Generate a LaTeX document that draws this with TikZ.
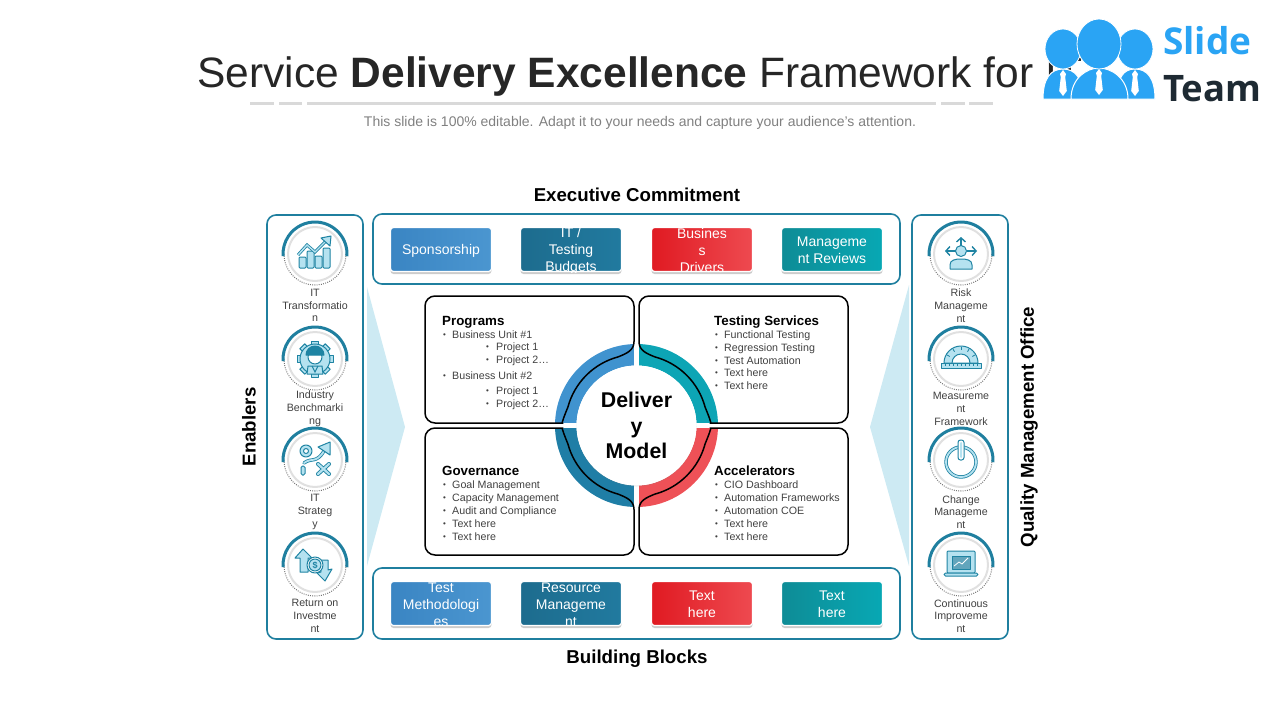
\documentclass[tikz,border=0pt]{standalone}
\usepackage{fontspec}
\setmainfont{Liberation Sans}
\newfontfamily\logofont{Open Sans}
\usepackage{tikz}
\usetikzlibrary{positioning}
\usetikzlibrary{calc,shadows}
\usetikzlibrary{arrows.meta}
\definecolor{frameteal}{HTML}{1F7F9F}
\definecolor{iconlight}{HTML}{B5E2F0}
\definecolor{icondark}{HTML}{1F84A3}
\definecolor{wedgecol}{HTML}{CDEAF3}
\definecolor{ringblue}{HTML}{4093CF}
\definecolor{ringcyan}{HTML}{0DA5B5}
\definecolor{ringdeep}{HTML}{1F7EA6}
\definecolor{ringred}{HTML}{EE5157}
\definecolor{btnblueA}{HTML}{3A85C3}
\definecolor{btnblueB}{HTML}{4B96D0}
\definecolor{btndeepA}{HTML}{1D6C8E}
\definecolor{btndeepB}{HTML}{217A9F}
\definecolor{btnredA}{HTML}{E01A22}
\definecolor{btnredB}{HTML}{EE4A50}
\definecolor{btncyanA}{HTML}{0E8C96}
\definecolor{btncyanB}{HTML}{08A8B4}
\definecolor{logoblue}{HTML}{2AA4F4}
\definecolor{logoink}{HTML}{1E2A33}
\definecolor{bodyink}{HTML}{404040}
\tikzstyle{framebox}=[draw=frameteal,line width=1.6pt,rounded corners=9pt]
\tikzstyle{panelline}=[draw=black,line width=1.5pt]
\tikzstyle{headtxt}=[inner sep=0pt,font=\fontsize{18.67}{22}\selectfont\bfseries,text=black]
\tikzstyle{btnbox}=[draw=white,line width=1.2pt,rounded corners=3pt,minimum width=101pt,minimum height=44pt,inner sep=0pt,shading angle=60,drop shadow={shadow xshift=0pt,shadow yshift=-2.5pt,opacity=.4}]
\tikzstyle{btntxt}=[inner sep=0pt,align=center,text=white,yshift=-1.2pt,font=\fontsize{14}{17}\selectfont]
\tikzstyle{paneltitle}=[inner sep=0pt,anchor=base west,font=\fontsize{13.33}{16}\selectfont\bfseries,text=black]
\tikzstyle{paneltxt}=[inner sep=0pt,anchor=base west,font=\fontsize{10.67}{12.8}\selectfont,text=bodyink]
\tikzstyle{sidetxt}=[inner sep=0pt,align=center,font=\fontsize{10.67}{12.8}\selectfont,text=bodyink]
\tikzstyle{badgedisc}=[circle,fill=white,draw=black!12,line width=2pt,minimum size=54pt,inner sep=0pt]
\tikzstyle{iconpart}=[draw=icondark,fill=iconlight,line width=1pt,line join=round]
\tikzstyle{chevron}=[icondark,line width=1.4pt,-{Straight Barb[length=4pt,width=9pt]}]
\tikzset{>=latex}
\newcommand{\dotmark}{\raisebox{1pt}{\fontsize{8}{8}\selectfont•}}

% one button, its text is cut off at the button edge
\newcommand{\slidebtn}[5]{
  \node[btnbox,left color=#3,right color=#4] (#1) at (#2) {};
  \begin{scope}
    \clip[rounded corners=3pt] (#1.south west) rectangle (#1.north east);
    \node[btntxt] (#1txt) at (#1.center) {#5};
  \end{scope}
}
% disc with solid upper arc and dotted lower arc
\newcommand{\slidebadge}[2]{
  \node[badgedisc] (#1) at (#2) {};
  \draw[black!55,line width=1pt,dash pattern=on .9pt off 1.3pt] ($(#1.center)+(0:31pt)$) arc[start angle=0,end angle=-180,radius=31pt];
  \draw[frameteal,line width=3pt] ($(#1.center)+(-4:32pt)$) arc[start angle=-4,end angle=184,radius=32pt];
}
% quarter panel, drawn for the upper left and mirrored for the others
\newcommand{\quarterpanel}[2]{
  \draw[panelline,shift={(centro)},xscale=#1,yscale=#2] (-2.5,-84) [rounded corners=10pt] -- (-2.5,-129.5) -- (-211.5,-129.5) -- (-211.5,-2.5) -- (-84,-2.5) [sharp corners]
    .. controls (-75,-2.5) and (-72,-10) .. (-68.6,-18.4) arc[start angle=165,end angle=105,radius=71pt]
    .. controls (-10,-72) and (-2.5,-75) .. (-2.5,-84) -- cycle;
}
% logo figure: left, middle, top of body, right, head centre, head radii
\newcommand{\logoperson}[7]{
  \fill[logoblue,draw=white,line width=1pt] (#1,99) .. controls (#1,78) and (#2-12,#3) .. (#2,#3) .. controls (#2+12,#3) and (#4,78) .. (#4,99) -- cycle;
  \fill[white] (#2,#3+1) -- (#2+3,#3+5) -- (#2+2.2,#3+8) -- (#2+3.8,#3+22) -- (#2,#3+27) -- (#2-3.8,#3+22) -- (#2-2.2,#3+8) -- (#2-3,#3+5) -- cycle;
  \fill[logoblue,draw=white,line width=.8pt] (#2,#5) ellipse[x radius=#6,y radius=#7];
}

\begin{document}
\begin{tikzpicture}[x=1pt,y=-1pt]
    \useasboundingbox (0,0) rectangle (1280,720);
    \coordinate (centro) at (636.5,425.5);

    % title, it runs on behind the logo
    \node[inner sep=0pt,anchor=base west,text=black!85,font=\fontsize{42.5}{50}\selectfont] (title) at (197,87) {Service \textbf{Delivery Excellence} Framework for IT};
    \foreach \xa/\xb in {250/274,279/302,307/936,941/965,969/993}
      \draw[black!15,line width=3pt] (\xa,103.5) -- (\xb,103.5);
    \node[inner sep=0pt,text=black!50,font=\fontsize{14}{17}\selectfont] (subtitle) at (640,122.5) {This slide is 100\% editable. Adapt it to your needs and capture your audience's attention.};

    % logo
    \logoperson{1043}{1063}{69}{1083}{49}{18}{20}
    \logoperson{1117}{1135}{69}{1155}{49}{18}{20}
    \logoperson{1071}{1099}{68}{1128}{44}{22}{25}
    \node[inner sep=0pt,anchor=base west,text=logoblue,font=\logofont\fontsize{37}{40}\selectfont\bfseries] (logoslide) at (1163,54) {Slide};
    \node[inner sep=0pt,anchor=base west,text=logoink,font=\logofont\fontsize{36.5}{40}\selectfont\bfseries] (logoteam) at (1163,101) {Team};

    % headings
    \node[headtxt] (topname) at (637,195) {Executive Commitment};
    \node[headtxt] (botname) at (637,659) {Building Blocks};
    \node[headtxt,rotate=90] (leftname) at (249,427) {Enablers};
    \node[headtxt,rotate=90] (rightname) at (1029,427) {Quality Management Office};

    % side wedges
    \fill[wedgecol] (367,287) -- (405,427) -- (367,566) -- cycle;
    \fill[wedgecol] (909,285) -- (870,427) -- (909,566) -- cycle;

    % outer frames
    \draw[framebox] (267,215) rectangle (363,639);
    \draw[framebox] (912,215) rectangle (1008,639);
    \draw[framebox] (373,214) rectangle (900,284);
    \draw[framebox] (373,568) rectangle (900,639);

    % upper buttons
    \slidebtn{btnA}{441,249.5}{btnblueA}{btnblueB}{Sponsorship}
    \slidebtn{btnB}{571,249.5}{btndeepA}{btndeepB}{IT /\\Testing\\Budgets}
    \slidebtn{btnC}{702,249.5}{btnredA}{btnredB}{Busines\\s\\Drivers}
    \slidebtn{btnD}{832,249.5}{btncyanA}{btncyanB}{Manageme\\nt Reviews}
    % lower buttons
    \slidebtn{btnE}{441,603.5}{btnblueA}{btnblueB}{Test\\Methodologi\\es}
    \slidebtn{btnF}{571,603.5}{btndeepA}{btndeepB}{Resource\\Manageme\\nt}
    \slidebtn{btnG}{702,603.5}{btnredA}{btnredB}{Text\\here}
    \slidebtn{btnH}{832,603.5}{btncyanA}{btncyanB}{Text\\here}

    % ring, four quarters with a white cross between them
    \draw[ringblue,line width=21.5pt] ($(centro)+(90:70.75pt)$) arc[start angle=90,end angle=180,radius=70.75pt];
    \draw[ringcyan,line width=21.5pt] ($(centro)+(0:70.75pt)$) arc[start angle=0,end angle=90,radius=70.75pt];
    \draw[ringdeep,line width=21.5pt] ($(centro)+(180:70.75pt)$) arc[start angle=180,end angle=270,radius=70.75pt];
    \draw[ringred,line width=21.5pt] ($(centro)+(270:70.75pt)$) arc[start angle=270,end angle=360,radius=70.75pt];
    \draw[white,line width=5pt] (553,425.5) -- (720,425.5);
    \draw[white,line width=5pt] (636.5,342) -- (636.5,509);
    \node[circle,fill=white,minimum size=120pt,inner sep=0pt,drop shadow={shadow xshift=0pt,shadow yshift=-1pt,opacity=.15},align=center,font=\fontsize{21.33}{25.6}\selectfont\bfseries] (hub) at (centro) {Deliver\\y\\Model};

    % quarter panels
    \quarterpanel{1}{1}
    \quarterpanel{-1}{1}
    \quarterpanel{1}{-1}
    \quarterpanel{-1}{-1}

    % panel texts
    \node[paneltitle] (progname) at (442,325.5) {Programs};
    \foreach \i/\xb/\xt/\yy/\txt in {1/443/452/338/Business Unit \#1,2/486/496/350/Project 1,3/486/496/363/Project 2\dots,4/443/452/379/Business Unit \#2,5/486/496/394/Project 1,6/486/496/407/Project 2\dots}{
      \node[paneltxt] (progdot\i) at (\xb,\yy) {\dotmark};
      \node[paneltxt] (progitem\i) at (\xt,\yy) {\txt};
    }
    \node[paneltitle] (testname) at (714,325.5) {Testing Services};
    \foreach \i/\yy/\txt in {1/338/Functional Testing,2/351/Regression Testing,3/364/Test Automation,4/376/Text here,5/389/Text here}{
      \node[paneltxt] (testdot\i) at (715,\yy) {\dotmark};
      \node[paneltxt] (testitem\i) at (724,\yy) {\txt};
    }
    \node[paneltitle] (govname) at (442,475.5) {Governance};
    \foreach \i/\yy/\txt in {1/488/Goal Management,2/501/Capacity Management,3/514/Audit and Compliance,4/527/Text here,5/540/Text here}{
      \node[paneltxt] (govdot\i) at (443,\yy) {\dotmark};
      \node[paneltxt] (govitem\i) at (452,\yy) {\txt};
    }
    \node[paneltitle] (accname) at (714,475.5) {Accelerators};
    \foreach \i/\yy/\txt in {1/488/CIO Dashboard,2/501/Automation Frameworks,3/514/Automation COE,4/527/Text here,5/540/Text here}{
      \node[paneltxt] (accdot\i) at (715,\yy) {\dotmark};
      \node[paneltxt] (accitem\i) at (724,\yy) {\txt};
    }

    % badges and their labels
    \foreach \nm/\cx/\cy in {ba/315/254,bb/315/359,bc/315/460,bd/315/565,be/961/254,bf/961/359,bg/961/460,bh/961/565}{
      \slidebadge{\nm}{\cx,\cy}
    }
    \node[sidetxt] (lblA) at (315,305.5) {IT\\Transformatio\\n};
    \node[sidetxt] (lblB) at (315,409) {Industry\\Benchmarki\\ng};
    \node[sidetxt] (lblC) at (315,512) {IT\\Strateg\\y};
    \node[sidetxt] (lblD) at (315,616) {Return on\\Investme\\nt};
    \node[sidetxt] (lblE) at (961,305.5) {Risk\\Manageme\\nt};
    \node[sidetxt] (lblF) at (961,409) {Measureme\\nt\\Framework};
    \node[sidetxt] (lblG) at (961,512) {Change\\Manageme\\nt};
    \node[sidetxt] (lblH) at (961,616) {Continuous\\Improveme\\nt};

    % icon: rising chart
    \begin{scope}[shift={(ba.center)}]
      \foreach \xb/\yt in {-16/3,-8/-3,0/2,8/-6}
        \draw[iconpart,rounded corners=1pt] (\xb,\yt) rectangle (\xb+7,14);
      \draw[icondark,line width=3pt] (-17,1) -- (-8,-9) -- (0,-2) -- (12,-14);
      \draw[iconlight,line width=1.4pt] (-17,1) -- (-8,-9) -- (0,-2) -- (12,-14);
      \draw[iconpart] (6,-16) -- (16,-18) -- (15,-8) -- cycle;
    \end{scope}

    % icon: gear with worker
    \begin{scope}[shift={(bb.center)}]
      \foreach \a in {0,45,...,315}
        \draw[iconpart,rotate=\a] (-3.5,-18) rectangle (3.5,-12);
      \draw[iconpart] (0,0) circle[radius=15pt];
      \draw[iconpart,fill=white] (0,-2) circle[radius=7pt];
      \draw[iconpart,fill=icondark] (-9,-4) arc[start angle=180,end angle=0,radius=9pt] -- cycle;
      \draw[iconpart] (-8,15) -- (-7,7) -- (7,7) -- (8,15) -- cycle;
      \draw[icondark,line width=1pt] (-3,7) -- (0,13) -- (3,7);
    \end{scope}

    % icon: play with arrow
    \begin{scope}[shift={(bc.center)}]
      \draw[iconpart] (-9,-9) circle[radius=6pt];
      \draw[iconpart,fill=white] (-9,-9) circle[radius=2.5pt];
      \draw[icondark,line width=3.4pt,line cap=round] (-11,3) .. controls (-3,-3) and (1,4) .. (9,-9);
      \draw[iconlight,line width=1.8pt,line cap=round] (-11,3) .. controls (-3,-3) and (1,4) .. (9,-9);
      \draw[iconpart] (3,-13) -- (15,-18) -- (15,-5) -- cycle;
      \draw[icondark,line width=4pt,line cap=round] (3,4) -- (14,14) (14,4) -- (3,14);
      \draw[iconlight,line width=2.2pt,line cap=round] (3,4) -- (14,14) (14,4) -- (3,14);
      \draw[iconpart,rounded corners=1.5pt] (-14,6) rectangle (-10,15);
    \end{scope}

    % icon: money up and down
    \begin{scope}[shift={(bd.center)}]
      \draw[iconpart] (-12,-16) -- (-3,-7) -- (-7,-7) -- (-7,7) -- (-15,7) -- (-15,-7) -- (-20,-7) -- cycle;
      \draw[iconpart] (10,16) -- (2,8) -- (6,7) -- (5,-5) -- (13,-5) -- (13,5) -- (17,4) -- cycle;
      \draw[iconpart,fill=white] (0,0) circle[radius=8pt];
      \draw[iconpart] (0,0) circle[radius=6pt];
      \node[inner sep=0pt,text=icondark,font=\fontsize{9}{9}\selectfont\bfseries] (dollarsign) at (0,0) {\$};
    \end{scope}

    % icon: person with arrows
    \begin{scope}[shift={(be.center)}]
      \draw[iconpart] (-11,15) -- (-11,11) .. controls (-11,6) and (-6,5) .. (0,5) .. controls (6,5) and (11,6) .. (11,11) -- (11,15) -- cycle;
      \draw[iconpart] (0,-3) circle[radius=5.5pt];
      \draw[chevron] (0,-8.5) -- (0,-17);
      \draw[chevron] (-5.5,-3) -- (-16,-3);
      \draw[chevron] (5.5,-3) -- (16,-3);
    \end{scope}

    % icon: protractor
    \begin{scope}[shift={(bf.center)}]
      \draw[iconpart] (-17,4) arc[start angle=180,end angle=0,radius=17pt] -- cycle;
      \draw[iconpart,fill=white] (-9,4) arc[start angle=180,end angle=0,radius=9pt] -- cycle;
      \foreach \a in {30,60,90,120,150}
        \draw[icondark,line width=.8pt] ($(0,4)+(\a:13pt)$) -- ($(0,4)+(\a:16pt)$);
      \draw[iconpart] (-20,4) rectangle (20,9);
      \foreach \xb in {-16,-12,...,16}
        \draw[icondark,line width=.7pt] (\xb,4) -- (\xb,6.5);
    \end{scope}

    % icon: power button
    \begin{scope}[shift={(bg.center)}]
      \draw[iconpart,fill=none,line width=3.4pt] (0,2) circle[radius=15pt];
      \draw[iconlight,line width=1.8pt] (0,2) circle[radius=15pt];
      \draw[iconpart,fill=white,rounded corners=2.5pt] (-3,-20) rectangle (3,0);
      \fill[iconlight,rounded corners=1pt] (-1,-18) rectangle (1,-2);
    \end{scope}

    % icon: laptop
    \begin{scope}[shift={(bh.center)}]
      \draw[iconpart,rounded corners=1pt] (-14,-14) rectangle (14,8);
      \draw[iconpart,fill=frameteal!70] (-9,-9) rectangle (9,4);
      \draw[white,line width=.8pt] (-7,1) -- (-2,-3) -- (1,-1) -- (7,-7);
      \draw[iconpart,rounded corners=1.5pt] (-17,8) rectangle (17,11);
    \end{scope}
\end{tikzpicture}
\end{document}
